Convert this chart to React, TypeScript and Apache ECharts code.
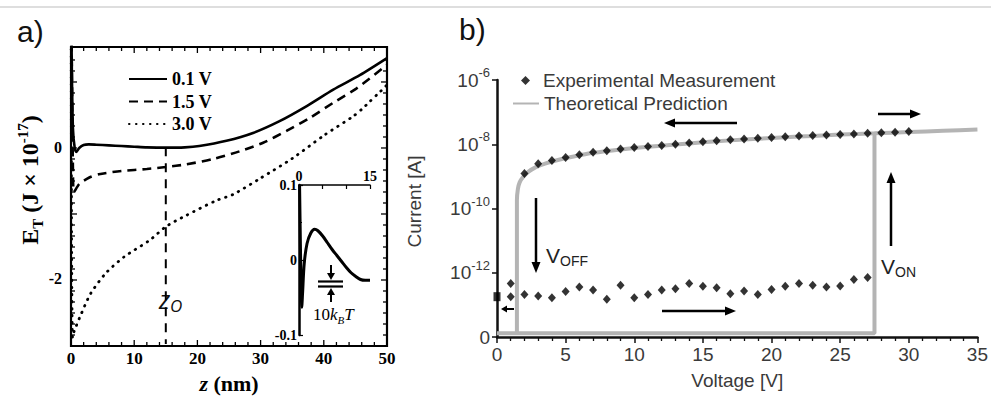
import React, { useEffect, useRef } from "react";
import * as echarts from "echarts";

// ---------- Panel a: E_T (J x 1e-17) versus z (nm) ----------
const solidCurve: number[][] = [
  [0.08, 1.6], [0.3, 0.3], [0.6, -0.02], [0.85, -0.07], [1.3, -0.01], [2, 0.035], [2.8, 0.045],
  [4, 0.04], [6, 0.03], [8, 0.02], [10, 0.01], [12, 0.0], [15, -0.005], [18, 0.0],
  [20.3, 0.02], [24.6, 0.1], [28.8, 0.22], [33, 0.4], [37.3, 0.63], [41.5, 0.88],
  [45.7, 1.1], [50, 1.36],
];
const dashedCurve: number[][] = [
  [0.1, 1.6], [0.3, -0.3], [0.48, -0.68], [1.3, -0.56], [2.9, -0.46], [4.4, -0.41],
  [8, -0.36], [12, -0.33], [15, -0.3], [18.2, -0.26], [22.4, -0.18], [26.7, -0.06],
  [30.4, 0.07], [34.1, 0.25], [37.8, 0.45], [41.5, 0.68], [45.2, 0.9], [50, 1.26],
];
const dottedCurve: number[][] = [
  [0.03, 1.6], [0.1, -1.5], [0.25, -2.9], [0.48, -2.81], [1.53, -2.56], [3.1, -2.23],
  [5.5, -1.92], [8.4, -1.67], [12.4, -1.42], [15, -1.21], [18.2, -1.04], [23, -0.81],
  [25.6, -0.72], [30, -0.47], [35, -0.17], [40, 0.18], [44.6, 0.47], [46, 0.58],
  [47.3, 0.7], [48.6, 0.82], [50, 0.95],
];
const z0Line: number[][] = [[15, 0], [15, -3]];
const legendA = ["0.1 V", "1.5 V", "3.0 V"];
const aRangeZ = [0, 50];
const aRangeE = [-3, 1.53];

// inset (0..15 nm, -0.1..0.1)
const insetCurve: number[][] = [
  [0.12, 0.1], [0.3, 0.02], [0.45, -0.045], [0.57, -0.063], [0.75, -0.045], [1.1, -0.005],
  [1.7, 0.022], [2.5, 0.036], [3.3, 0.041], [4, 0.039], [5, 0.032], [6, 0.023], [7, 0.014],
  [8, 0.006], [9, -0.002], [10, -0.01], [11, -0.017], [12, -0.022], [13, -0.026],
  [14, -0.027], [15, -0.027],
];

// ---------- Panel b: Current [A] versus Voltage [V] ----------
const expUpperV = [2, 3, 4, 5, 6, 7, 8, 9, 10, 11, 12, 13, 14, 15, 16, 17, 18, 19, 20, 21, 22, 23, 24, 25, 26, 27, 28, 29, 30];
const expUpperI = [
  1.23e-9, 2.45e-9, 3.1e-9, 3.9e-9, 4.7e-9, 5.6e-9, 6.3e-9, 7.1e-9, 7.9e-9, 8.5e-9,
  9.1e-9, 1.0e-8, 1.1e-8, 1.2e-8, 1.29e-8, 1.38e-8, 1.45e-8, 1.55e-8, 1.62e-8, 1.7e-8,
  1.82e-8, 1.86e-8, 1.95e-8, 2.0e-8, 2.1e-8, 2.2e-8, 2.3e-8, 2.35e-8, 2.5e-8,
];
const expLowerV = [1, 1, 2, 3, 4, 5, 6, 7, 8, 9, 10, 11, 12, 13, 14, 15, 16, 17, 18, 19, 20, 21, 22, 23, 24, 25, 26, 27];
const expLowerI = [
  4.6e-13, 1.8e-13, 2.1e-13, 1.9e-13, 1.66e-13, 2.6e-13, 3.6e-13, 2.9e-13, 1.5e-13, 4.1e-13,
  1.66e-13, 2.1e-13, 2.9e-13, 3.2e-13, 4.6e-13, 3.8e-13, 3.4e-13, 2.2e-13, 2.7e-13, 2.1e-13,
  3.0e-13, 3.8e-13, 4.6e-13, 4.1e-13, 3.6e-13, 3.9e-13, 6.2e-13, 7.1e-13,
];
const expStartV = [0];
const expStartI = [1.8e-13];

const theoryV = [1.45, 1.45, 1.52, 1.65, 1.9, 2.3, 2.8, 3.5, 4.5, 5.5, 7, 9, 11, 13, 15, 17, 19, 21, 23, 25, 27.5, 30, 32.5, 35];
const theoryI = [
  1.3e-14, 1.8e-10, 4.0e-10, 6.5e-10, 9.5e-10, 1.4e-9, 1.9e-9, 2.5e-9, 3.3e-9, 4.1e-9,
  5.4e-9, 6.9e-9, 8.3e-9, 9.8e-9, 1.15e-8, 1.32e-8, 1.48e-8, 1.66e-8, 1.82e-8, 2.0e-8,
  2.19e-8, 2.4e-8, 2.63e-8, 2.88e-8,
];
const theoryLoopV = [0, 27.5, 27.5];
const theoryLoopI = [1.3e-14, 1.3e-14, 2.19e-8];

const yTicksB = ["0", "10-12", "10-10", "10-8", "10-6"];

const serif = "'Liberation Serif', 'DejaVu Serif', serif";
const sans = "'Liberation Sans', Arial, sans-serif";
const gray = "#b4b4b4";
const txtB = "#3a3a3a";

const gridA = { left: 71, top: 47, width: 316, height: 299 };

function zip(xs: number[], ys: number[]) {
  return xs.map((x, i) => [x, ys[i]]);
}

function seg(x1: number, y1: number, x2: number, y2: number, w: number, color = "#000"): any {
  return { type: "line", shape: { x1, y1, x2, y2 }, style: { stroke: color, lineWidth: w }, silent: true };
}

function arrow(x1: number, y1: number, x2: number, y2: number, w = 2.5, hl = 11, hw = 4.5): any[] {
  const dx = x2 - x1, dy = y2 - y1;
  const len = Math.sqrt(dx * dx + dy * dy);
  const ux = dx / len, uy = dy / len;
  const bx = x2 - ux * hl, by = y2 - uy * hl;
  const px = -uy, py = ux;
  return [
    seg(x1, y1, bx + ux * 2, by + uy * 2, w),
    {
      type: "polygon",
      shape: { points: [[x2, y2], [bx + px * hw, by + py * hw], [bx - px * hw, by - py * hw]] },
      style: { fill: "#000" },
      silent: true,
    },
  ];
}

// Frame of panel a with inside ticks on all four sides (same linear scale as the grid's axes)
function frameA(): any[] {
  const L = gridA.left, T = gridA.top, R = gridA.left + gridA.width, B = gridA.top + gridA.height;
  const zx = (z: number) => L + ((z - aRangeZ[0]) / (aRangeZ[1] - aRangeZ[0])) * gridA.width;
  const ey = (e: number) => B - ((e - aRangeE[0]) / (aRangeE[1] - aRangeE[0])) * gridA.height;
  const out: any[] = [
    { type: "rect", shape: { x: L, y: T, width: R - L, height: B - T }, style: { fill: "none", stroke: "#000", lineWidth: 2.2 }, silent: true, z: 10 },
  ];
  for (let z = aRangeZ[0] + 2; z < aRangeZ[1]; z += 2) {
    const len = z % 10 === 0 ? 6 : 4;
    const x = zx(z);
    out.push({ ...seg(x, B, x, B - len, 1.3), z: 10 });
    out.push({ ...seg(x, T, x, T + len, 1.3), z: 10 });
  }
  for (let k = 1; aRangeE[0] + k / 6 < aRangeE[1] - 0.05; k++) {
    const len = k % 6 === 0 ? 6 : 4;
    const y = ey(aRangeE[0] + k / 6);
    out.push({ ...seg(L, y, L + len, y, 1.3), z: 10 });
    out.push({ ...seg(R, y, R - len, y, 1.3), z: 10 });
  }
  return out;
}

export default function App() {
  const ref = useRef<HTMLDivElement>(null);
  useEffect(() => {
    if (!ref.current) return;
    const chart = echarts.init(ref.current, undefined, { renderer: "svg" });
    const noSym = { opacity: 0 };
    const hidden = { show: false };

    const graphicBase: any[] = [
      seg(0, 7, 991, 7, 2, "#dedede"),
      { type: "text", x: 17, y: 31, style: { text: "a)", font: `30px ${sans}`, fill: "#111", verticalAlign: "middle" } },
      { type: "text", x: 459, y: 29, style: { text: "b)", font: `30px ${sans}`, fill: "#111", verticalAlign: "middle" } },
      {
        type: "text", x: 30, y: 180, rotation: Math.PI / 2,
        style: {
          text: "E{sub|T} (J × 10{sup|-17})",
          font: `bold 24px ${serif}`, fill: "#000", align: "center", verticalAlign: "middle",
          rich: {
            sub: { font: `bold 15px ${serif}`, fill: "#000", verticalAlign: "bottom", lineHeight: 30 },
            sup: { font: `bold 15px ${serif}`, fill: "#000", verticalAlign: "top", lineHeight: 30 },
          },
        },
      },
      {
        type: "text", x: 159, y: 299,
        style: {
          text: "z{sub|O}", font: `italic 25px 'Open Sans', 'Liberation Sans', sans-serif`, fill: "#111", verticalAlign: "middle",
          rich: { sub: { font: `italic 17px 'Open Sans', sans-serif`, fill: "#111", verticalAlign: "bottom", lineHeight: 30 } },
        },
      },
      // inset scale bar (10 kBT)
      seg(318, 281.5, 343, 281.5, 2.2),
      seg(318, 286.5, 343, 286.5, 2.2),
      ...arrow(331, 265, 331, 280, 2, 7, 4),
      ...arrow(331, 302, 331, 288, 2, 7, 4),
      {
        type: "text", x: 313, y: 314,
        style: {
          text: "10{it|k}{sub|B}{it|T}", font: `17px ${serif}`, fill: "#000", verticalAlign: "middle",
          rich: {
            it: { font: `italic 17px ${serif}`, fill: "#000" },
            sub: { font: `italic 11px ${serif}`, fill: "#000", verticalAlign: "bottom", lineHeight: 22 },
          },
        },
      },
      // panel b arrows
      ...arrow(737, 123, 664, 123),
      ...arrow(878, 114, 921, 114),
      ...arrow(536, 198, 536, 273),
      ...arrow(891, 246, 891, 172),
      ...arrow(514, 309, 501, 309, 2, 6, 3.5),
      ...arrow(662, 311, 736, 311),
      {
        type: "text", x: 546, y: 255,
        style: {
          text: "V{sub|OFF}", font: `21px ${sans}`, fill: "#222", verticalAlign: "middle",
          rich: { sub: { font: `14px ${sans}`, fill: "#222", verticalAlign: "bottom", lineHeight: 26 } },
        },
      },
      {
        type: "text", x: 881, y: 266,
        style: {
          text: "V{sub|ON}", font: `21px ${sans}`, fill: "#222", verticalAlign: "middle",
          rich: { sub: { font: `14px ${sans}`, fill: "#222", verticalAlign: "bottom", lineHeight: 26 } },
        },
      },
      ...frameA(),
    ];

    const option: any = {
      animation: false,
      backgroundColor: "#fff",
      grid: [
        { ...gridA },
        { left: 299, top: 185, width: 71, height: 150 },
        { left: 497, top: 80, width: 481, height: 257 },
      ],
      legend: [
        {
          data: legendA.map((n) => ({ name: n, itemStyle: noSym })),
          left: 123, top: 64, orient: "vertical",
          itemWidth: 38, itemHeight: 14, itemGap: 2.5,
          textStyle: { fontFamily: serif, fontWeight: "bold", fontSize: 18, color: "#000", lineHeight: 20 },
        },
        {
          data: ["Experimental Measurement"],
          left: 516, top: 64, orient: "vertical",
          itemWidth: 9, itemHeight: 9,
          textStyle: { fontFamily: sans, fontSize: 19, color: txtB, lineHeight: 23, padding: [0, 0, 0, 8] },
        },
        {
          data: [{ name: "Theoretical Prediction", itemStyle: noSym }],
          left: 507, top: 87, orient: "vertical",
          itemWidth: 26, itemHeight: 9,
          textStyle: { fontFamily: sans, fontSize: 19, color: txtB, lineHeight: 23 },
        },
      ],
      xAxis: [
        {
          gridIndex: 0, type: "value", min: aRangeZ[0], max: aRangeZ[1], interval: 10, position: "bottom",
          axisLine: { show: false, onZero: false }, axisTick: hidden, minorTick: hidden, splitLine: hidden,
          axisLabel: { margin: 6, fontFamily: serif, fontWeight: "bold", fontSize: 17, color: "#000" },
          name: "{it|z} (nm)", nameLocation: "middle", nameGap: 24,
          nameTextStyle: {
            fontFamily: serif, fontWeight: "bold", fontSize: 22, color: "#000",
            rich: { it: { fontFamily: serif, fontStyle: "italic", fontWeight: "bold", fontSize: 22, color: "#000" } },
          },
        },
        {
          gridIndex: 1, type: "value", min: 0, max: 15, interval: 5, position: "top",
          axisLine: { show: true, onZero: false, lineStyle: { color: "#000", width: 1.5 } },
          axisTick: { show: true, inside: true, length: 4, lineStyle: { color: "#000", width: 1.2 } },
          splitLine: hidden,
          axisLabel: {
            margin: 2, fontFamily: serif, fontWeight: "bold", fontSize: 14, color: "#000",
            formatter: (v: number) => (v === 0 || v === 15 ? String(v) : ""),
          },
        },
        {
          gridIndex: 2, type: "value", min: 0, max: 35, interval: 5, position: "bottom",
          axisLine: { show: true, onZero: false, lineStyle: { color: "#111", width: 2.5 } },
          axisTick: { show: true, inside: false, length: 6, lineStyle: { color: "#111", width: 1.5 } },
          minorTick: { show: true, splitNumber: 5, length: 4, lineStyle: { color: "#111", width: 1.3 } },
          splitLine: hidden,
          axisLabel: { margin: 8, fontFamily: sans, fontSize: 19, color: txtB },
          name: "Voltage [V]", nameLocation: "middle", nameGap: 34,
          nameTextStyle: { fontFamily: sans, fontSize: 19, color: txtB },
        },
      ],
      yAxis: [
        {
          gridIndex: 0, type: "value", min: aRangeE[0], max: aRangeE[1], interval: 1, position: "left",
          axisLine: { show: false, onZero: false }, axisTick: hidden, minorTick: hidden, splitLine: hidden,
          axisLabel: {
            margin: 9, fontFamily: serif, fontWeight: "bold", fontSize: 16, color: "#000",
            formatter: (v: number) => (v === 0 ? "0" : v === -2 ? "-2" : ""),
          },
        },
        {
          gridIndex: 1, type: "value", min: -0.1, max: 0.1, interval: 0.1, position: "left",
          axisLine: { show: true, onZero: false, lineStyle: { color: "#000", width: 2.5 } },
          axisTick: { show: true, inside: true, length: 4, lineStyle: { color: "#000", width: 1.2 } },
          minorTick: { show: true, splitNumber: 2, length: 3, lineStyle: { color: "#000", width: 1 } },
          splitLine: hidden,
          axisLabel: {
            margin: 2, fontFamily: serif, fontWeight: "bold", fontSize: 14, color: "#000",
            formatter: (v: number) => (Math.abs(v) < 1e-9 ? "0" : v.toFixed(1)),
          },
        },
        {
          gridIndex: 2, type: "log", logBase: 100, min: 1e-14, max: 1e-6, splitNumber: 4, position: "left",
          axisLine: { show: true, onZero: false, lineStyle: { color: "#111", width: 2.5 } },
          axisTick: { show: true, inside: false, length: 5, lineStyle: { color: "#111", width: 1.5 } },
          splitLine: hidden,
          axisLabel: {
            margin: 7, fontFamily: sans, fontSize: 19, color: txtB, lineHeight: 28,
            formatter: (v: number) => {
              const e = Math.round(Math.log10(v));
              if (e <= -14) return yTicksB[0];
              return "10{sup|" + e + "}";
            },
            rich: { sup: { fontFamily: sans, fontSize: 13, color: txtB, verticalAlign: "top", lineHeight: 28 } },
          },
          name: "Current [A]", nameLocation: "middle", nameGap: 73,
          nameTextStyle: { fontFamily: sans, fontSize: 19, color: txtB, padding: [0, 0, 0, 14] },
        },
      ],
      series: [
        {
          name: "0.1 V", type: "line", xAxisIndex: 0, yAxisIndex: 0, data: solidCurve,
          symbol: "none", showSymbol: false, smooth: 0.25,
          lineStyle: { color: "#000", width: 2.6 }, itemStyle: { color: "#000" },
        },
        {
          name: "1.5 V", type: "line", xAxisIndex: 0, yAxisIndex: 0, data: dashedCurve,
          symbol: "none", showSymbol: false, smooth: 0.25,
          lineStyle: { color: "#000", width: 2.6, type: [9, 6] }, itemStyle: { color: "#000" },
        },
        {
          name: "3.0 V", type: "line", xAxisIndex: 0, yAxisIndex: 0, data: dottedCurve,
          symbol: "none", showSymbol: false, smooth: 0.25,
          lineStyle: { color: "#000", width: 2.8, type: [0.5, 6.5], cap: "round" }, itemStyle: { color: "#000" },
        },
        {
          name: "z0", type: "line", xAxisIndex: 0, yAxisIndex: 0, data: z0Line,
          symbol: "none", showSymbol: false,
          lineStyle: { color: "#000", width: 2, type: [9, 7] },
        },
        {
          name: "inset", type: "line", xAxisIndex: 1, yAxisIndex: 1, data: insetCurve,
          symbol: "none", showSymbol: false, smooth: 0.3,
          lineStyle: { color: "#000", width: 3 },
        },
        {
          name: "Theoretical Prediction", type: "line", xAxisIndex: 2, yAxisIndex: 2,
          data: zip(theoryV, theoryI), symbol: "none", showSymbol: false, smooth: 0.2, z: 1,
          lineStyle: { color: gray, width: 4 }, itemStyle: { color: gray },
        },
        {
          name: "Theoretical Prediction", type: "line", xAxisIndex: 2, yAxisIndex: 2,
          data: zip(theoryLoopV, theoryLoopI), symbol: "none", showSymbol: false, z: 1,
          lineStyle: { color: gray, width: 4 }, itemStyle: { color: gray },
        },
        {
          name: "Experimental Measurement", type: "scatter", xAxisIndex: 2, yAxisIndex: 2,
          data: zip(expUpperV, expUpperI).concat(zip(expLowerV, expLowerI)),
          symbol: "diamond", symbolSize: [8, 9], itemStyle: { color: "#000" }, z: 3,
        },
        {
          name: "Experimental Measurement", type: "scatter", xAxisIndex: 2, yAxisIndex: 2,
          data: zip(expStartV, expStartI),
          symbol: "rect", symbolSize: [7, 9], itemStyle: { color: "#000" }, z: 4,
        },
      ],
      graphic: graphicBase,
    };
    chart.setOption(option);
    return () => chart.dispose();
  }, []);
  return <div ref={ref} style={{ position: "fixed", left: 0, top: 0, width: 991, height: 399, background: "#fff" }} />;
}
